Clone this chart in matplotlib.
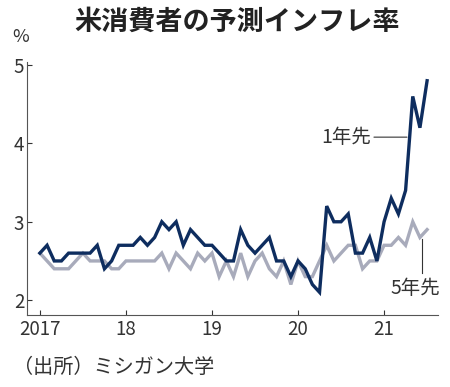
import numpy as np
import matplotlib.pyplot as plt

plt.rcParams['font.family'] = ['Noto Sans CJK JP', 'DejaVu Sans']

# monthly, Jan 2017 - Jul 2021
one_year = [2.6, 2.7, 2.5, 2.5, 2.6, 2.6, 2.6, 2.6, 2.7, 2.4, 2.5, 2.7,
            2.7, 2.7, 2.8, 2.7, 2.8, 3.0, 2.9, 3.0, 2.7, 2.9, 2.8, 2.7,
            2.7, 2.6, 2.5, 2.5, 2.9, 2.7, 2.6, 2.7, 2.8, 2.5, 2.5, 2.3,
            2.5, 2.4, 2.2, 2.1, 3.2, 3.0, 3.0, 3.1, 2.6, 2.6, 2.8, 2.5,
            3.0, 3.3, 3.1, 3.4, 4.6, 4.2, 4.8]
five_year = [2.6, 2.5, 2.4, 2.4, 2.4, 2.5, 2.6, 2.5, 2.5, 2.5, 2.4, 2.4,
             2.5, 2.5, 2.5, 2.5, 2.5, 2.6, 2.4, 2.6, 2.5, 2.4, 2.6, 2.5,
             2.6, 2.3, 2.5, 2.3, 2.6, 2.3, 2.5, 2.6, 2.4, 2.3, 2.5, 2.2,
             2.5, 2.3, 2.3, 2.5, 2.7, 2.5, 2.6, 2.7, 2.7, 2.4, 2.5, 2.5,
             2.7, 2.7, 2.8, 2.7, 3.0, 2.8, 2.9]
year_ticks = [0, 12, 24, 36, 48]
year_labels = ['2017', '18', '19', '20', '21']
y_ticks = [2, 3, 4, 5]

navy = '#0e2d5f'
grey = '#a8abbb'

fig = plt.figure(figsize=(4.5, 3.87), dpi=100)
ax = fig.add_axes([0.06, 0.186, 0.913, 0.654])

months = np.arange(len(one_year))
ax.plot(months, five_year, color=grey, lw=2.4, solid_joinstyle='miter')
ax.plot(months, one_year, color=navy, lw=2.4, solid_joinstyle='miter')

ax.set_xlim(-1.8, 55.5)
ax.set_ylim(1.81, 5.04)
ax.set_xticks(year_ticks)
ax.set_xticklabels(year_labels)
ax.set_yticks(y_ticks)
ax.tick_params(direction='in', length=3.5, width=0.8, labelsize=13.5,
               colors='#333333', pad=3)
ax.tick_params(axis='y', pad=2)
for s in ['top', 'right']:
    ax.spines[s].set_visible(False)
for s in ['left', 'bottom']:
    ax.spines[s].set_color('#555555')
    ax.spines[s].set_linewidth(0.8)

# series labels
ax.annotate('1年先', xy=(51.2, 4.08), xytext=(46.2, 4.08), ha='right',
            va='center', fontsize=14, color='#333333',
            arrowprops=dict(arrowstyle='-', lw=0.8, color='#333333',
                            shrinkA=0, shrinkB=0))
ax.plot([53.3, 53.3], [2.35, 2.78], color='#333333', lw=0.8)
ax.text(52.4, 2.15, '5年先', ha='center', va='center', fontsize=14,
        color='#333333')

fig.text(0.527, 0.943, '米消費者の予測インフレ率', ha='center', va='center',
         fontsize=19.5, fontweight='bold', color='#222222')
fig.text(0.028, 0.905, '%', ha='left', va='center', fontsize=13,
         color='#333333')
fig.text(0.028, 0.05, '（出所）ミシガン大学', ha='left', va='center',
         fontsize=14.5, color='#333333')

fig.savefig('out.png', dpi=100)
